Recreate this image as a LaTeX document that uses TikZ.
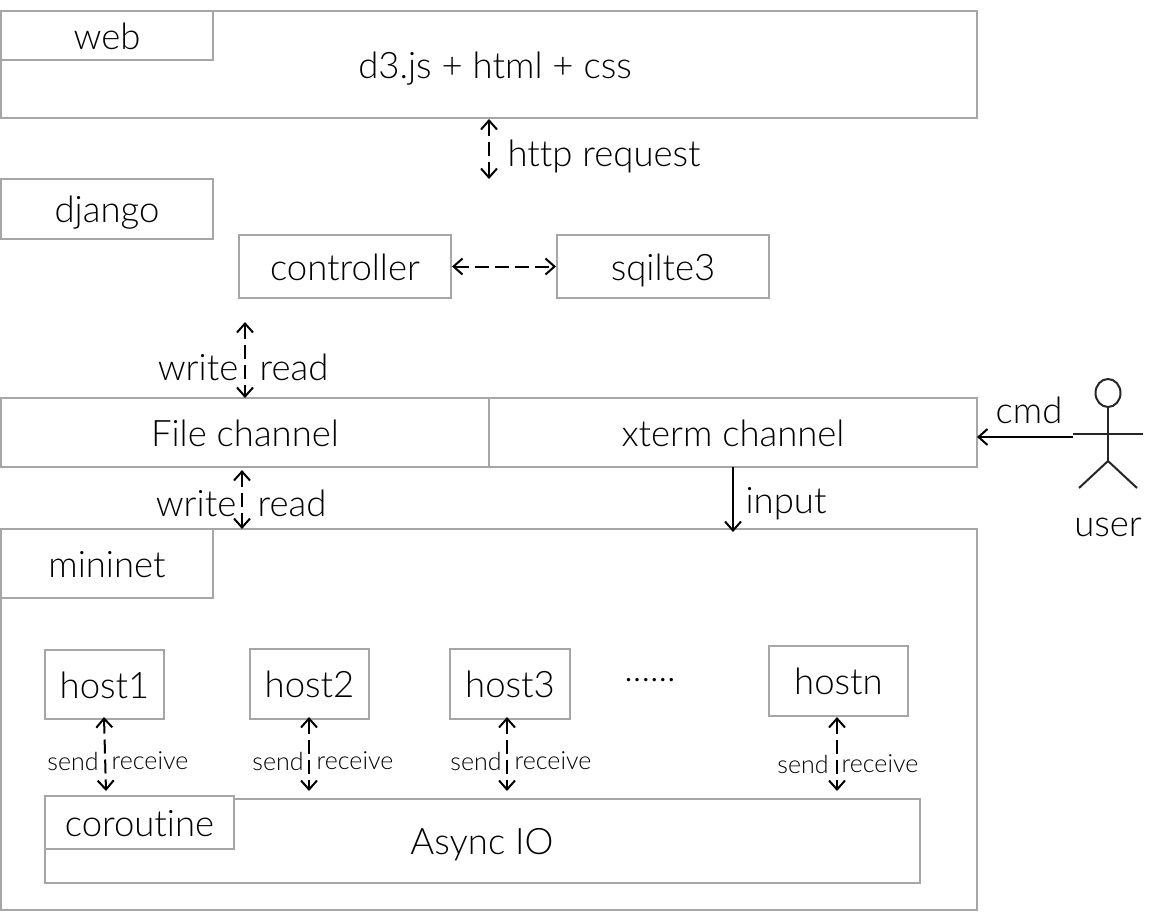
\documentclass[tikz,border=0pt]{standalone}
\usepackage{fontspec}
\setmainfont{Lato}[UprightFont={* Light},Ligatures=NoCommon]
\usetikzlibrary{arrows.meta,shapes.geometric}
\definecolor{boxgray}{HTML}{A6A6A6}
\definecolor{inkc}{HTML}{000000}
\tikzset{
  box/.style={draw=boxgray,line width=2pt,fill=white,inner sep=0pt,anchor=north west,text=inkc,text height=32pt,text depth=5pt,font=\fontsize{36.5}{36.5}\selectfont},
  lbl/.style={inner sep=0pt,text=inkc,text height=30pt,text depth=5pt,font=\fontsize{36.5}{36.5}\selectfont},
  small/.style={inner sep=0pt,text=inkc,font=\fontsize{25}{25}\selectfont},
  dbl/.style={black,line width=2pt,dash pattern=on 14pt off 6pt,{Straight Barb[length=9pt,width=16pt]}-{Straight Barb[length=9pt,width=16pt]}},
  sgl/.style={black,line width=2pt,-{Straight Barb[length=9pt,width=16pt]}},
  actor/.style={draw=black!85,line width=2pt},
}
\begin{document}
\begin{tikzpicture}[x=1pt,y=-1pt]
\useasboundingbox (1,1) rectangle (1166,912);
% web
\node[box,minimum width=976pt,minimum height=107pt] (webo) at (1,11) {};
\node[lbl] (webt) at (496,67) {d3.js + html + css};
\node[box,minimum width=212pt,minimum height=49pt] (web) at (1,11) {web};
% django
\node[box,minimum width=212pt,minimum height=60pt] (django) at (1,179) {django};
\node[box,minimum width=212pt,minimum height=63pt] (controller) at (239,235) {controller};
\node[box,minimum width=212pt,minimum height=63pt] (sqlite) at (557,235) {sqilte3};
% channels
\node[box,minimum width=488pt,minimum height=69pt] (file) at (1,398) {File channel};
\node[box,minimum width=488pt,minimum height=69pt] (xterm) at (489,398) {xterm channel};
% mininet
\node[box,minimum width=976pt,minimum height=381pt] (mininet) at (1,529) {};
\node[box,minimum width=212pt,minimum height=69pt] (minit) at (1,529) {mininet};
\node[box,minimum width=119pt,minimum height=69pt] (host1) at (45,650) {host1};
\node[box,minimum width=119pt,minimum height=70pt] (host2) at (250,649) {host2};
\node[box,minimum width=120pt,minimum height=70pt] (host3) at (450,649) {host3};
\node[box,minimum width=139pt,minimum height=70pt] (hostn) at (769,646) {hostn};
\node[lbl] (dots) at (651,670) {......};
\node[box,minimum width=875pt,minimum height=84pt] (async) at (45,799) {};
\node[lbl] (asynct) at (483,843) {Async IO};
\node[box,minimum width=189pt,minimum height=53pt] (coroutine) at (45,796) {coroutine};
% free ends
\coordinate (ws) at (490,120);
\coordinate (h) at (490,180);
\coordinate (ct) at (246,323);
\coordinate (ft) at (246,399);
\coordinate (fb) at (243,471);
\coordinate (mt) at (243,530);
\coordinate (xb) at (734,468);
\coordinate (mx) at (734,533);
\coordinate (a1) at (105,718);
\coordinate (b1) at (107,792);
\coordinate (a2) at (310,718);
\coordinate (b2) at (310,792);
\coordinate (a3) at (508,718);
\coordinate (b3) at (508,792);
\coordinate (an) at (838,718);
\coordinate (bn) at (838,792);
\coordinate (armr) at (1074,438);
\coordinate (filee) at (978,438);
% connectors
\draw[dbl] (ws) -- (h);
\draw[dbl] (controller.east) -- (sqlite.west);
\draw[dbl] (ct) -- (ft);
\draw[dbl] (fb) -- (mt);
\draw[sgl] (xb) -- (mx);
\draw[dbl] (a1) -- (b1);
\draw[dbl] (a2) -- (b2);
\draw[dbl] (a3) -- (b3);
\draw[dbl] (an) -- (bn);
\draw[sgl] (armr) -- (filee);
% labels
\node[lbl] (lhttp) at (605,155) {http request};
\node[lbl] (lw1) at (199,369) {write};
\node[lbl] (lr1) at (295,369) {read};
\node[lbl] (lw2) at (197,505) {write};
\node[lbl] (lr2) at (293,505) {read};
\node[lbl] (linput) at (787,502) {input};
\node[lbl] (lcmd) at (1030,412) {cmd};
\node[lbl] (luser) at (1109,525) {user};
\foreach \x/\y in {74/762,279/762,477/762,804/765}{\node[small] at (\x+0,\y) {send};}
\foreach \x/\y in {151/762,356/762,554/762,881/765}{\node[small] at (\x+0,\y) {receive};}
% actor
\node[draw=black!85,line width=2pt,ellipse,minimum width=25pt,minimum height=28pt,inner sep=0pt] (head) at (1109,394) {};
\coordinate (hip) at (1109,462);
\coordinate (al) at (1074,435);
\coordinate (ar) at (1144,435);
\coordinate (ll) at (1080,489);
\coordinate (lr) at (1138,489);
\draw[actor] (head.south) -- (hip);
\draw[actor] (al) -- (ar);
\draw[actor] (hip) -- (ll);
\draw[actor] (hip) -- (lr);
\end{tikzpicture}
\end{document}
